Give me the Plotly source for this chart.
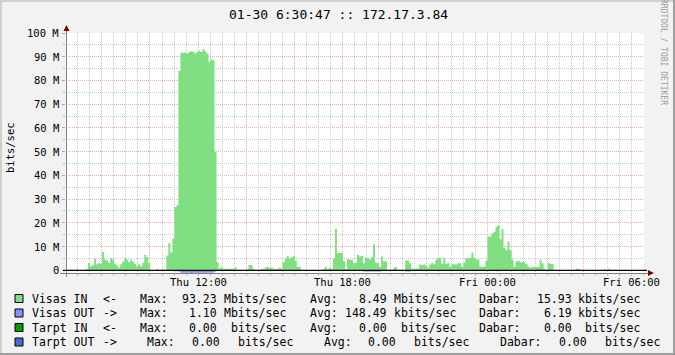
import plotly.graph_objects as go
from datetime import datetime, timedelta

# ---------------- data ----------------
title_text = "01-30 6:30:47 :: 172.17.3.84"
y_title = "bits/sec"
watermark = "RRDTOOL / TOBI OETIKER"
start_time = "2015-01-29 06:30:47"
span_hours = 24
step_minutes = 5

# Visas IN, Mbit/s, one value per 5-minute step (288 steps)
visas_in_mbit = [
    0, 0, 0, 0, 0, 0.7, 0, 0, 0, 0, 0.6,
    3.1, 1.7, 2.2, 4.9, 2.5, 3.1, 2.7, 7.7, 4.5, 4.1,
    3.2, 5.2, 4.4, 2.8, 2.0, 1.1, 2.5, 3.7, 5.2, 4.6,
    3.4, 4.5, 3.7, 2.5, 1.7, 2.5, 1.7, 3.2, 6.5, 5.5,
    3.1, 0, 0, 0, 0.6, 0, 0, 0.6, 0,
    6.2, 11.5, 7.5, 13.4, 26.7, 27.4, 84.0,
    91.8, 91.6, 91.8, 91.4, 92.0, 92.3, 92.1, 91.4, 92.0, 92.5, 92.1, 93.23, 92.3, 91.4, 87.9, 88.9,
    88.5, 50.0, 3.4, 0.8, 1.3,
    0.6, 0.6, 0.6, 0.6, 0.6, 0.6, 1.3,
    0, 0, 0, 0, 0,
    0.7, 2.2, 2.2, 0.6,
    0, 0, 0,
    0.6, 0.6, 1.1, 1.5, 1.0, 1.1, 0.7, 0.7, 0.7, 1.1, 0.7,
    3.4, 5.0, 6.0, 5.0, 5.5, 6.0, 4.0, 1.5, 1.5,
    0, 0, 0, 0, 0, 0, 0, 0, 0, 0, 0,
    0.7, 1.5, 0.4, 1.1, 0.7, 5.0, 17.4, 7.2, 7.3, 7.3, 3.9, 0.6, 4.8, 4.4,
    4.4, 3.0, 3.2, 6.5, 5.8, 6.0, 3.0, 5.3, 5.3, 4.6, 5.5, 11.0, 3.2, 3.0, 1.5, 5.8, 3.7, 3.7,
    0, 0.7, 0, 1.1, 1.5,
    0, 0, 0, 0,
    4.1, 4.1, 3.0, 0.7, 0.7, 0.8, 0.8, 2.4, 2.2, 2.4, 1.8, 1.1, 2.4, 3.2, 2.5,
    4.4, 5.2, 5.2, 2.7, 5.3, 2.5, 3.2, 1.5, 2.5, 2.5, 2.4, 3.0, 3.0, 1.5, 3.2, 5.1, 5.1, 5.2, 7.5, 5.3,
    4.6, 4.6, 1.5, 1.5, 1.5, 4.1,
    14.2, 14.2, 15.6, 16.2, 18.4, 19.1, 13.1, 17.3, 9.3, 8.6, 12.1, 8.6, 4.4, 1.5, 3.7, 4.1, 3.4,
    3.4, 3.4, 2.5, 1.5, 1.1, 1.4, 1.4, 1.4, 1.4, 4.4, 3.0, 0.8, 0, 3.2, 2.7, 2.7,
    0, 0, 0, 0, 0, 0, 0, 0, 0, 0, 0,
    0.7, 0.7,
    0, 0, 0, 0, 0, 0, 0, 0, 0, 0, 0, 0,
    0.4, 0, 0.7,
    0, 0, 0, 0, 0, 0, 0, 0, 0, 0, 0, 0, 0, 0, 0, 0, 0,
]

# Visas OUT, Mbit/s (drawn below the zero line)
visas_out_mbit = [
    0, 0, 0, 0, 0, 0, 0, 0, 0, 0, 0, 0, 0, 0, 0, 0, 0, 0, 0, 0, 0, 0, 0, 0, 0, 0, 0,
    0, 0, 0, 0, 0, 0, 0, 0, 0, 0, 0, 0, 0, 0, 0, 0, 0, 0, 0, 0, 0, 0, 0, 0, 0, 0, 0,
    0.4, 0.4, 0.5,
    1.0, 1.05, 1.05, 1.08, 1.05, 1.1, 1.08, 1.05, 1.05, 1.08, 1.05, 1.05, 1.05, 1.02, 1.0, 1.0, 0.95,
    0.5,
    0, 0, 0, 0, 0, 0, 0, 0, 0, 0, 0, 0, 0, 0, 0, 0, 0, 0, 0, 0, 0, 0, 0, 0, 0, 0, 0, 0, 0, 0, 0, 0, 0, 0, 0, 0, 0,
    0, 0, 0, 0, 0, 0, 0, 0, 0, 0, 0, 0, 0, 0, 0, 0, 0, 0, 0, 0, 0, 0, 0, 0, 0, 0, 0, 0, 0, 0, 0, 0, 0, 0, 0, 0,
    0.5, 0.5, 0.5, 0.5, 0.5, 0.5, 0.5, 0.5, 0.5,
    0, 0, 0, 0, 0, 0, 0, 0, 0, 0, 0, 0,
    0.5, 0.5, 0.5,
    0, 0, 0, 0, 0, 0, 0, 0, 0, 0, 0, 0, 0, 0, 0, 0, 0, 0, 0, 0, 0, 0, 0, 0, 0, 0, 0, 0, 0, 0, 0, 0, 0, 0, 0, 0, 0, 0, 0, 0, 0, 0,
    0.4,
    0, 0, 0, 0, 0, 0, 0, 0, 0, 0, 0, 0, 0, 0, 0, 0, 0, 0, 0, 0, 0, 0, 0, 0, 0, 0, 0, 0, 0, 0, 0, 0, 0, 0, 0, 0, 0,
    0, 0, 0, 0, 0, 0, 0, 0, 0, 0, 0, 0, 0, 0, 0, 0, 0, 0, 0, 0, 0, 0, 0, 0, 0, 0, 0, 0, 0, 0, 0, 0, 0, 0, 0, 0,
]

y_tick_vals = [0, 10, 20, 30, 40, 50, 60, 70, 80, 90, 100]
y_tick_text = ["0", "10 M", "20 M", "30 M", "40 M", "50 M", "60 M", "70 M", "80 M", "90 M", "100 M"]
x_label_times = ["2015-01-29 12:00", "2015-01-29 18:00", "2015-01-30 00:00", "2015-01-30 06:00"]
x_label_text = ["Thu 12:00", "Thu 18:00", "Fri 00:00", "Fri 06:00"]

legend_names = ["Visas IN", "Visas OUT", "Tarpt IN", "Tarpt OUT"]
legend_dirs = ["<-", "->", "<-", "->"]
legend_max = ["93.23", "1.10", "0.00", "0.00"]
legend_max_unit = ["Mbits/sec", "Mbits/sec", "bits/sec", "bits/sec"]
legend_avg = ["8.49", "148.49", "0.00", "0.00"]
legend_avg_unit = ["Mbits/sec", "kbits/sec", "bits/sec", "bits/sec"]
legend_cur = ["15.93", "6.19", "0.00", "0.00"]
legend_cur_unit = ["kbits/sec", "kbits/sec", "bits/sec", "bits/sec"]
legend_colors = ["#80DF80", "#8094FF", "#00A000", "#4A6CC8"]

# ---------------- style / layout ----------------
IN_COLOR = "#80DF80"
OUT_COLOR = "#8094FF"
MGRID = "#F0ABAB"
GRID = "#C8C8C8"
FONT = "DejaVu Sans Mono"

FIG_W, FIG_H = 675, 355
L, R, T, B = 66, 644, 33, 273
PW, PH = R - L, B - T
Y_MIN, Y_MAX = -1.14, 100


def px(x):
    return (x - L) / PW


def py(y):
    return (B - y) / PH


t0 = datetime.fromisoformat(start_time)
t1 = t0 + timedelta(hours=span_hours)
step = timedelta(minutes=step_minutes)
times = [t0 + step * i for i in range(len(visas_in_mbit) + 1)]
in_vals = visas_in_mbit + [visas_in_mbit[-1]]
out_vals = [-v for v in visas_out_mbit] + [-visas_out_mbit[-1]]

fig = go.Figure()
fig.add_trace(go.Scatter(x=times, y=in_vals, mode="lines", line=dict(width=0, shape="hv"),
                         fill="tozeroy", fillcolor=IN_COLOR, hoverinfo="skip", showlegend=False))
fig.add_trace(go.Scatter(x=times, y=out_vals, mode="lines", line=dict(width=0, shape="hv"),
                         fill="tozeroy", fillcolor=OUT_COLOR, hoverinfo="skip", showlegend=False))

# grid tick positions
major_x = []
t = datetime(t0.year, t0.month, t0.day, 8, 0)
while t <= t1:
    major_x.append(t)
    t += timedelta(hours=2)
minor_x = []
t = datetime(t0.year, t0.month, t0.day, 7, 0)
while t <= t1:
    minor_x.append(t)
    t += timedelta(minutes=30)

DASH = "1px,1px"
fig.update_xaxes(range=[t0, t1], tickmode="array", tickvals=major_x, ticktext=[""] * len(major_x),
                 showgrid=True, gridcolor=MGRID, griddash=DASH, gridwidth=1,
                 ticks="outside", ticklen=3, tickcolor="#A0A0A0", showline=False, zeroline=False,
                 minor=dict(tickmode="array", tickvals=minor_x, showgrid=True, gridcolor=GRID,
                            griddash=DASH, ticks="outside", ticklen=2, tickcolor="#C0C0C0"))
fig.update_yaxes(range=[Y_MIN, Y_MAX], tickmode="array", tickvals=y_tick_vals,
                 ticktext=[""] * len(y_tick_vals), showgrid=True, gridcolor=MGRID, griddash=DASH,
                 ticks="outside", ticklen=3, tickcolor="#E09090", showline=False, zeroline=False,
                 minor=dict(dtick=5, tick0=0, showgrid=True, gridcolor=GRID, griddash=DASH,
                            ticks="outside", ticklen=2, tickcolor="#C0C0C0"))

shapes = []
# frame bevel
shapes.append(dict(type="rect", xref="paper", yref="paper", x0=px(0), x1=px(FIG_W), y0=py(0), y1=py(2),
                   fillcolor="#CFCFCF", line=dict(width=0)))
shapes.append(dict(type="rect", xref="paper", yref="paper", x0=px(0), x1=px(2), y0=py(0), y1=py(FIG_H),
                   fillcolor="#CFCFCF", line=dict(width=0)))
shapes.append(dict(type="rect", xref="paper", yref="paper", x0=px(0), x1=px(FIG_W), y0=py(FIG_H - 2),
                   y1=py(FIG_H), fillcolor="#9E9E9E", line=dict(width=0)))
shapes.append(dict(type="rect", xref="paper", yref="paper", x0=px(FIG_W - 2), x1=px(FIG_W), y0=py(0),
                   y1=py(FIG_H), fillcolor="#9E9E9E", line=dict(width=0)))
# axes
shapes.append(dict(type="line", xref="paper", yref="paper", x0=px(60), x1=px(648), y0=py(273.5), y1=py(273.5),
                   line=dict(color="#808080", width=1)))
shapes.append(dict(type="line", xref="paper", yref="paper", x0=px(66.5), x1=px(66.5), y0=py(28), y1=py(277),
                   line=dict(color="#808080", width=1)))
# zero line
shapes.append(dict(type="line", xref="paper", yref="y", x0=px(63), x1=px(647), y0=0, y1=0,
                   line=dict(color="#000000", width=1.2)))
# arrows
shapes.append(dict(type="path", xref="paper", yref="paper",
                   path="M %f %f L %f %f L %f %f Z" % (px(66.5), py(25), px(63.5), py(31), px(69.5), py(31)),
                   fillcolor="#800000", line=dict(width=0)))
shapes.append(dict(type="path", xref="paper", yref="paper",
                   path="M %f %f L %f %f L %f %f Z" % (px(654), py(273), px(648), py(270), px(648), py(276)),
                   fillcolor="#800000", line=dict(width=0)))

ann = []
ann.append(dict(text=title_text, x=px(338), y=py(14), xref="paper", yref="paper", showarrow=False,
                xanchor="center", yanchor="middle", font=dict(family=FONT, size=13, color="#000")))
ann.append(dict(text=y_title, x=px(10), y=py(148), xref="paper", yref="paper", showarrow=False,
                textangle=-90, xanchor="center", yanchor="middle", font=dict(family=FONT, size=10.5, color="#000")))
ann.append(dict(text=watermark, x=px(664), y=py(52), xref="paper", yref="paper", showarrow=False,
                textangle=90, xanchor="center", yanchor="middle", font=dict(family=FONT, size=8, color="#9C9C9C")))
for v, s in zip(y_tick_vals, y_tick_text):
    ann.append(dict(text=s, x=px(61), y=v, xref="paper", yref="y", showarrow=False,
                    xanchor="right", yanchor="middle", font=dict(family=FONT, size=10.5, color="#000")))
for tv, s in zip(x_label_times, x_label_text):
    ann.append(dict(text=s, x=tv, y=py(282), xref="x", yref="paper", showarrow=False,
                    xanchor="center", yanchor="middle", font=dict(family=FONT, size=10.5, color="#000")))

# legend layout (pixel columns)
row_y = [298.5, 313, 327.5, 342]
name_x = [30, 30, 30, 30]
dir_x = [101, 101, 101, 101]
maxlab_x = [138, 138, 138, 145]
maxval_r = [219, 219, 219, 222]
maxunit_x = [222, 222, 229, 236]
avglab_x = [308, 308, 308, 322]
avgval_r = [389, 389, 389, 398]
avgunit_x = [392, 392, 399, 412]
curlab_x = [477, 477, 477, 498]
curval_r = [574, 574, 574, 589]
curunit_x = [576, 576, 583, 603]
LFS = 11.5


def txt(s, x, y, anchor="left"):
    ann.append(dict(text=s, x=px(x), y=py(y), xref="paper", yref="paper", showarrow=False,
                    xanchor=anchor, yanchor="middle", font=dict(family=FONT, size=LFS, color="#000")))


for i in range(4):
    y = row_y[i]
    shapes.append(dict(type="rect", xref="paper", yref="paper", x0=px(15), x1=px(23), y0=py(y - 4),
                       y1=py(y + 4), fillcolor=legend_colors[i], line=dict(color="#000", width=1)))
    txt(legend_names[i], name_x[i], y)
    txt(legend_dirs[i], dir_x[i], y)
    txt("Max:", maxlab_x[i], y)
    txt(legend_max[i], maxval_r[i], y, "right")
    txt(legend_max_unit[i], maxunit_x[i], y)
    txt("Avg:", avglab_x[i], y)
    txt(legend_avg[i], avgval_r[i], y, "right")
    txt(legend_avg_unit[i], avgunit_x[i], y)
    txt("Dabar:", curlab_x[i], y)
    txt(legend_cur[i], curval_r[i], y, "right")
    txt(legend_cur_unit[i], curunit_x[i], y)

fig.update_layout(width=FIG_W, height=FIG_H, margin=dict(l=L, r=FIG_W - R, t=T, b=FIG_H - B, pad=0),
                  paper_bgcolor="#F2F2F2", plot_bgcolor="#FFFFFF", shapes=shapes, annotations=ann,
                  showlegend=False, font=dict(family=FONT))

fig.write_html("out.html")
